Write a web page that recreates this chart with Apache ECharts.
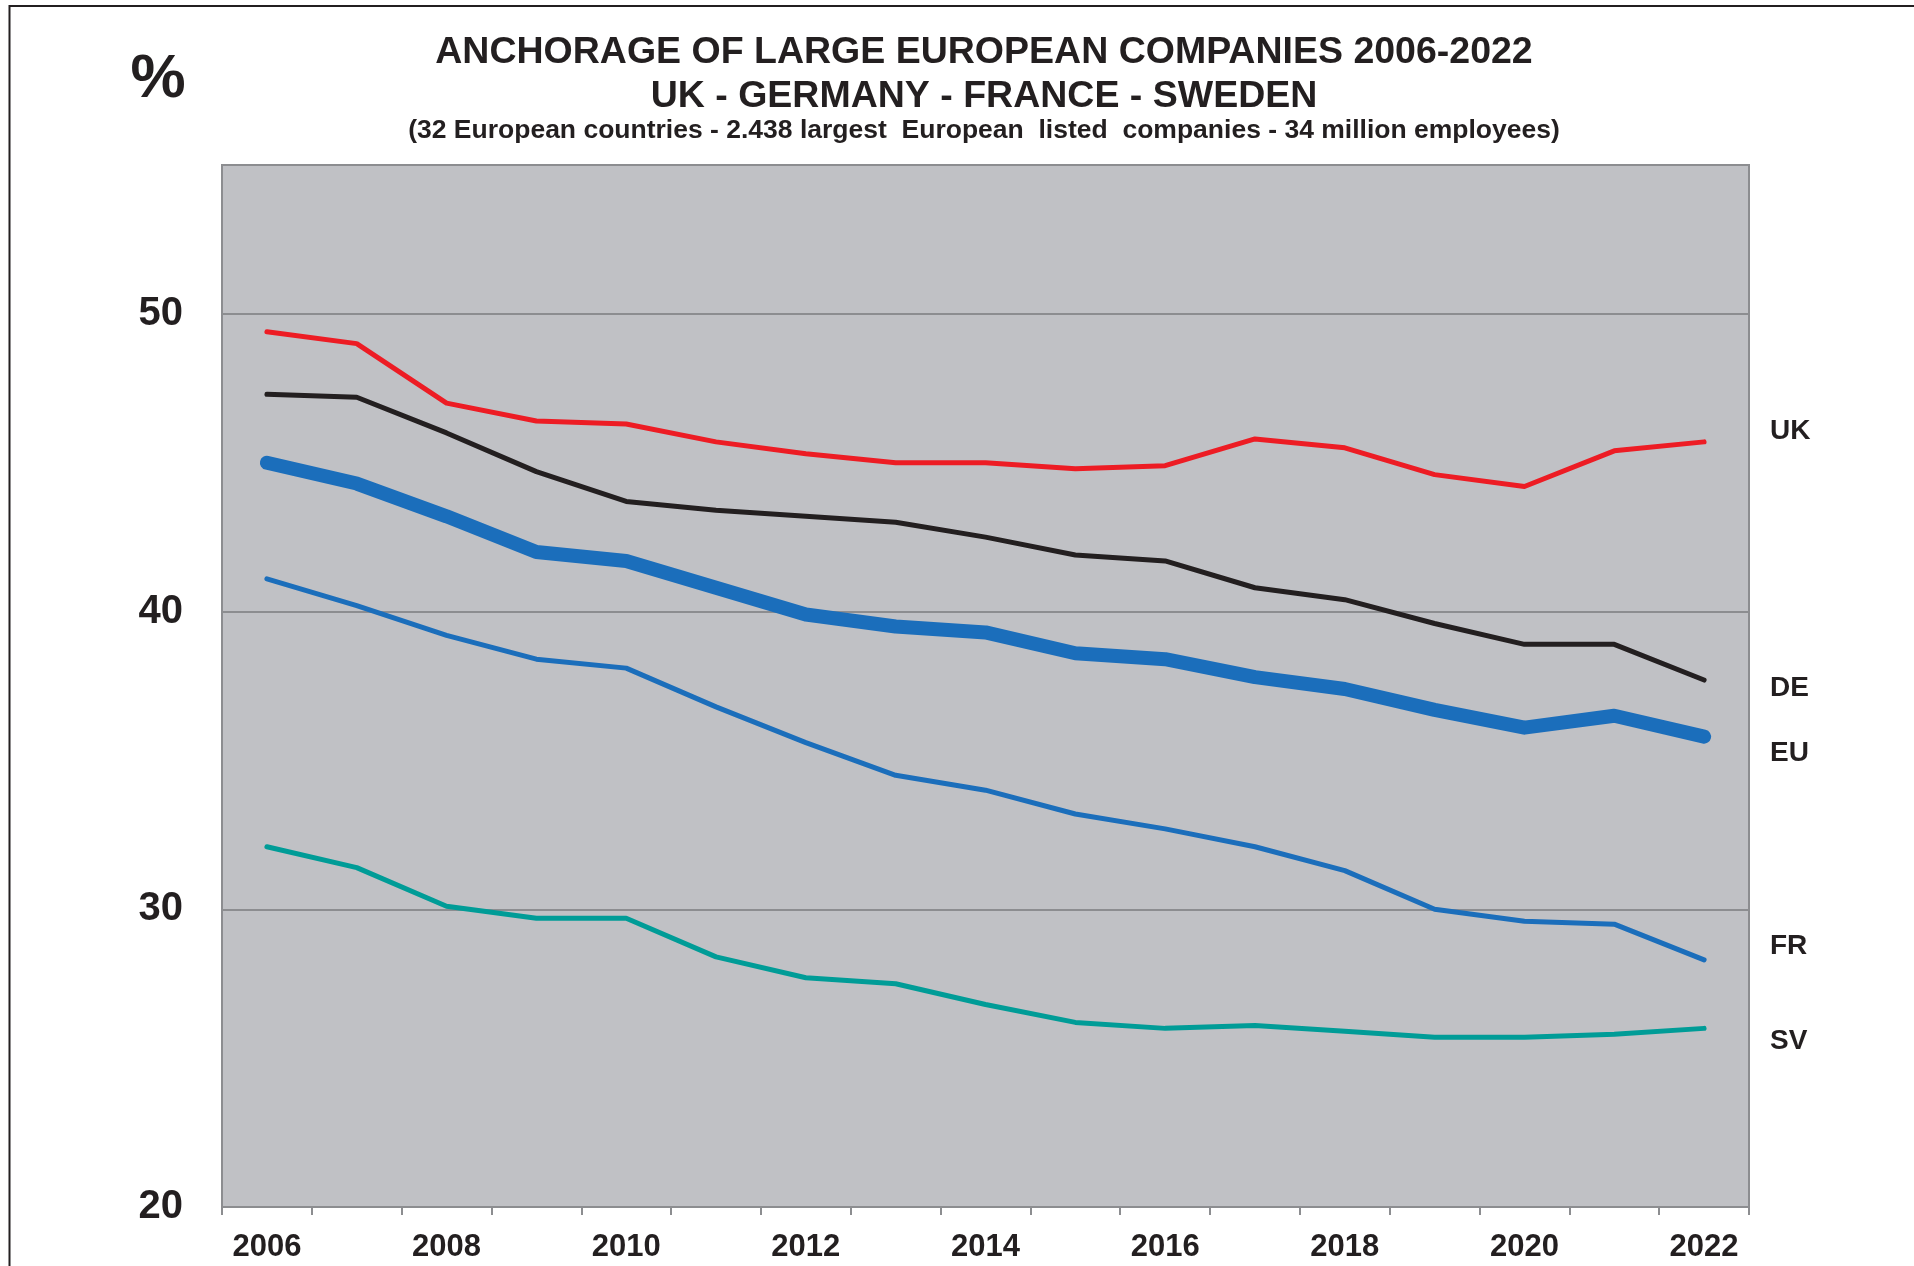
<!DOCTYPE html>
<html>
<head>
<meta charset="utf-8">
<title>Anchorage of large European companies 2006-2022</title>
<script src="https://cdn.jsdelivr.net/npm/echarts@6/dist/echarts.min.js"></script>
<style>
  html, body { margin: 0; padding: 0; background: #ffffff; }
  #chart { width: 1914px; height: 1266px; }
</style>
</head>
<body>
<div id="chart"></div>
<script>
// Years on the category axis
const years = ['2006','2007','2008','2009','2010','2011','2012','2013','2014',
               '2015','2016','2017','2018','2019','2020','2021','2022'];

// Share of employees anchored in the home country, %
const uk = [49.4, 49.0, 47.0, 46.4, 46.3, 45.7, 45.3, 45.0, 45.0, 44.8, 44.9, 45.8, 45.5, 44.6, 44.2, 45.4, 45.7];
const de = [47.3, 47.2, 46.0, 44.7, 43.7, 43.4, 43.2, 43.0, 42.5, 41.9, 41.7, 40.8, 40.4, 39.6, 38.9, 38.9, 37.7];
const eu = [45.0, 44.3, 43.2, 42.0, 41.7, 40.8, 39.9, 39.5, 39.3, 38.6, 38.4, 37.8, 37.4, 36.7, 36.1, 36.5, 35.8];
const fr = [41.1, 40.2, 39.2, 38.4, 38.1, 36.8, 35.6, 34.5, 34.0, 33.2, 32.7, 32.1, 31.3, 30.0, 29.6, 29.5, 28.3];
const sv = [32.1, 31.4, 30.1, 29.7, 29.7, 28.4, 27.7, 27.5, 26.8, 26.2, 26.0, 26.1, 25.9, 25.7, 25.7, 25.8, 26.0];

// Value axis range and tick step
const yMin = 20, yMax = 55, yStep = 10;

const seriesNames = ['UK', 'DE', 'EU', 'FR', 'SV'];
const seriesData = [uk, de, eu, fr, sv];
const seriesColors = ['#ed1c24', '#231f20', '#1b6ebb', '#1b6ebb', '#009c97'];
const seriesWidths = [5, 5, 14, 5, 5];

const FONT = '"Liberation Sans", Arial, Helvetica, sans-serif';
const INK = '#231f20';

const chart = echarts.init(document.getElementById('chart'), null, { renderer: 'canvas' });

function text(x, y, str, size, align) {
  return {
    type: 'text', x: x, y: y, silent: true,
    style: {
      text: str, fill: INK, fontFamily: FONT, fontWeight: 'bold',
      fontSize: size, textAlign: align || 'center', textVerticalAlign: 'middle'
    }
  };
}

const option = {
  backgroundColor: '#ffffff',
  animation: false,
  grid: {
    left: 222, right: 165, top: 165, bottom: 59,
    show: true,
    backgroundColor: '#c0c1c5',
    borderColor: '#8c8d90',
    borderWidth: 2
  },
  xAxis: {
    type: 'category',
    data: years,
    boundaryGap: true,
    axisLine: { show: true, lineStyle: { color: '#8c8d90', width: 2 } },
    axisTick: { show: true, interval: 0, length: 8, lineStyle: { color: '#8c8d90', width: 2 } },
    axisLabel: {
      interval: 1, margin: 25,
      color: INK, fontFamily: FONT, fontWeight: 'bold', fontSize: 31
    },
    splitLine: { show: false }
  },
  yAxis: {
    type: 'value',
    min: yMin, max: yMax, interval: yStep,
    axisLine: { show: false },
    axisTick: { show: false },
    axisLabel: {
      margin: 39,
      showMaxLabel: false,
      formatter: v => (v % yStep === 0 ? String(v) : ''),
      padding: [8, 0, 0, 0],
      color: INK, fontFamily: FONT, fontWeight: 'bold', fontSize: 40
    },
    splitLine: { show: true, lineStyle: { color: '#8c8d90', width: 2 } }
  },
  series: seriesNames.map((name, i) => ({
    name: name,
    type: 'line',
    data: seriesData[i],
    symbol: 'none',
    z: i === 2 ? 3 : 2,
    lineStyle: { color: seriesColors[i], width: seriesWidths[i], cap: 'round', join: 'round' }
  })),
  graphic: [
    // outer frame: top and left rules
    {
      type: 'polyline', silent: true,
      shape: { points: [[9.5, 1266], [9.5, 6], [1914, 6]] },
      style: { stroke: INK, lineWidth: 2, fill: null }
    },
    text(158, 80, '%', 62),
    text(984, 53, 'ANCHORAGE OF LARGE EUROPEAN COMPANIES 2006-2022', 37.5),
    text(984, 97, 'UK - GERMANY - FRANCE - SWEDEN', 37.5),
    text(984, 131, '(32 European countries - 2.438 largest  European  listed  companies - 34 million employees)', 26.5),
    // series names at the right of the plot
    text(1770, 431, 'UK', 28, 'left'),
    text(1770, 688, 'DE', 28, 'left'),
    text(1770, 753, 'EU', 28, 'left'),
    text(1770, 946, 'FR', 28, 'left'),
    text(1770, 1041, 'SV', 28, 'left')
  ]
};

chart.setOption(option);
</script>
</body>
</html>
